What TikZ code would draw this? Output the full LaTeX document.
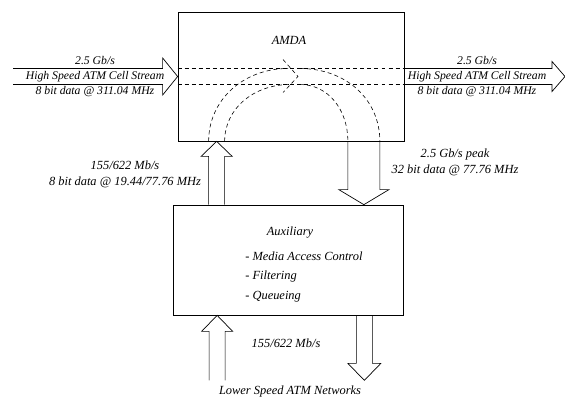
\documentclass[tikz,border=0pt]{standalone}
\usepackage{fontspec}
\setmainfont{Liberation Serif}
\usetikzlibrary{positioning,calc}

% hollow block arrow: start, tip, half shaft, half head, head length
\newcommand{\fatarrow}[5]{%
  \coordinate (fa-h) at ($(#2)!#5!(#1)$);
  \draw ($(#1)!#3!90:(#2)$) -- ($(fa-h)!#3!90:(#2)$) -- ($(fa-h)!#4!90:(#2)$) -- (#2)
    -- ($(fa-h)!#4!-90:(#2)$) -- ($(fa-h)!#3!-90:(#2)$) -- ($(#1)!#3!-90:(#2)$);
}

\begin{document}
\begin{tikzpicture}[
    x=0.03cm, y=-0.03cm,
    line width=0.6pt,
    font=\itshape\fontsize{10.6}{13.5}\selectfont,
    box/.style={draw, inner sep=0pt},
    flow/.style={dash pattern=on 3.4pt off 2.6pt, line width=0.5pt},
    lbl/.style={align=center, inner sep=0pt},
    stream/.style={lbl, font=\itshape\fontsize{10}{12.8}\selectfont},
  ]
  \useasboundingbox (0,0) rectangle (565,397);

  % blocks
  \node[box, minimum width=6.78cm, minimum height=3.87cm] (amda) at (291,76.5) {};
  \node[box, minimum width=6.9cm, minimum height=3.3cm] (aux) at (288,260) {};
  \node[lbl] (amdaname) at (289,40) {AMDA};
  \node[lbl] (auxname) at (290,233) {Auxiliary};
  \node[lbl, align=left, anchor=west, font=\itshape\fontsize{10.6}{17}\selectfont] (auxlist) at (245,277)
    {- Media Access Control\\- Filtering\\- Queueing};

  % arrow ends
  \coordinate (inS) at (13,76.5);
  \coordinate (outE) at (565,76.5);
  \coordinate (upS) at ($(aux.north west)+(44,0)$);
  \coordinate (upE) at (amda.south -| upS);
  \coordinate (dnS) at ($(amda.south east)+(-40.5,0)$);
  \coordinate (dnE) at (aux.north -| dnS);
  \coordinate (netin) at ($(aux.south west)+(44.5,65)$);
  \coordinate (netinE) at (aux.south -| netin);
  \coordinate (netoutS) at ($(aux.south east)+(-39,0)$);
  \coordinate (netout) at ($(netoutS)+(0,65)$);

  \fatarrow{inS}{amda.west}{0.24cm}{0.555cm}{0.45cm}
  \fatarrow{amda.east}{outE}{0.24cm}{0.45cm}{0.39cm}
  \fatarrow{upS}{upE}{0.24cm}{0.465cm}{0.45cm}
  \fatarrow{dnS}{dnE}{0.48cm}{0.75cm}{0.45cm}
  \fatarrow{netin}{netinE}{0.24cm}{0.465cm}{0.48cm}
  \fatarrow{netoutS}{netout}{0.24cm}{0.495cm}{0.51cm}

  % paths through AMDA
  \coordinate (tip) at (298,76.5);
  \draw[flow] ($(amda.west)+(0,-8)$) -- ($(amda.east)+(0,-8)$);
  \draw[flow] ($(amda.west)+(0,8)$) -- ($(amda.east)+(0,8)$);
  \draw[flow] ($(upE)+(-8,0)$) .. controls +(0,-42) and +(-44,0) .. (288,68.5);
  \draw[flow] ($(upE)+(8,0)$) .. controls +(0,-33) and +(-36,0) .. (290,84.5);
  \draw[flow] ($(tip)+(-15,-17)$) -- (tip) -- ($(tip)+(-15,16)$);
  \draw[flow] (300,68.5) .. controls +(46,0) and +(0,-42) .. ($(dnS)+(16,0)$);
  \draw[flow] (300,84.5) .. controls +(28,0) and +(0,-32) .. ($(dnS)+(-16,0)$);

  % labels
  \node[stream] (inlbl) at (95,77) {2.5 Gb/s\\High Speed ATM Cell Stream\\8 bit data @ 311.04 MHz};
  \node[stream] (outlbl) at (477,77) {2.5 Gb/s\\High Speed ATM Cell Stream\\8 bit data @ 311.04 MHz};
  \node[lbl] (uplbl) at (125,174) {155/622 Mb/s\\8 bit data @ 19.44/77.76 MHz};
  \node[lbl] (dnlbl) at (455,162) {2.5 Gb/s peak\\32 bit data @ 77.76 MHz};
  \node[lbl] (netlbl) at (286,343) {155/622 Mb/s};
  \node[lbl] (netname) at (290,392) {Lower Speed ATM Networks};
\end{tikzpicture}
\end{document}
